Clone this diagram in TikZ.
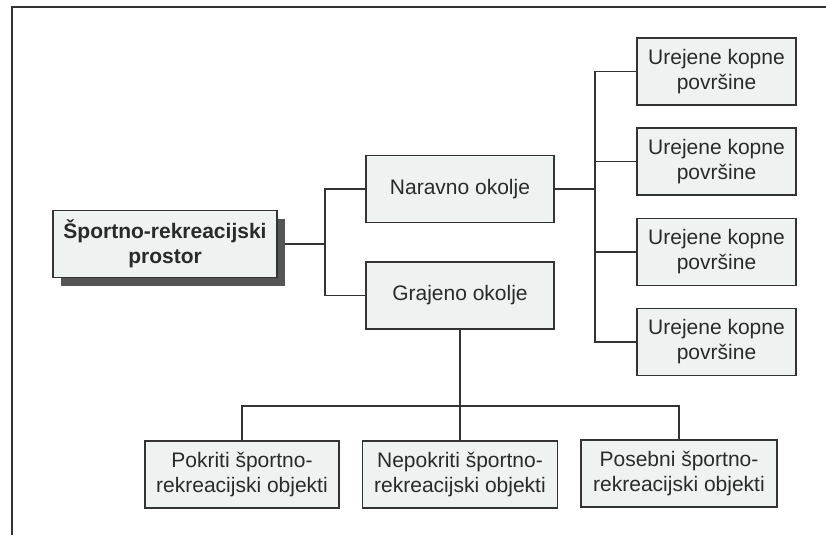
\documentclass[tikz,border=0pt]{standalone}
\usepackage{fontspec}
\setmainfont{Liberation Sans}
\begin{document}
\begin{tikzpicture}[x=1pt,y=-1pt,
  box/.style={draw=linec, fill=boxfill, line width=1.4pt, text=textc,
    font=\fontsize{21}{25}\selectfont, align=center, inner sep=0pt,
    minimum height=67pt},
  conn/.style={draw=linec, line width=1.2pt},
]
\definecolor{boxfill}{HTML}{EEF2F0}
\definecolor{linec}{HTML}{333333}
\definecolor{textc}{HTML}{2A2A2A}
\definecolor{shadowc}{HTML}{555555}
\useasboundingbox (0,0) rectangle (826,535);
% frame
\draw[linec, line width=1.6pt] (12,535) -- (12,7) -- (826,7);
% main node with shadow
\node[fill=shadowc, minimum width=224pt, minimum height=67pt, inner sep=0pt] (mainsh) at (173,252) {};
\node[box, minimum width=224pt, font=\bfseries\fontsize{21}{25}\selectfont] (main) at (165,244) {Športno-rekreacijski\\prostor};
% second level
\node[box, minimum width=188pt] (nar) at (460,189) {Naravno okolje};
\node[box, minimum width=188pt] (gra) at (460,295.5) {Grajeno okolje};
% right column
\node[box, minimum width=159pt] (u1) at (716.5,71.5) {Urejene kopne\\površine};
\node[box, minimum width=159pt] (u2) at (716.5,161.5) {Urejene kopne\\površine};
\node[box, minimum width=159pt] (u3) at (716.5,252) {Urejene kopne\\površine};
\node[box, minimum width=159pt] (u4) at (716.5,342) {Urejene kopne\\površine};
% bottom row
\node[box, minimum width=194pt] (b1) at (242,474.5) {Pokriti športno-\\rekreacijski objekti};
\node[box, minimum width=195pt] (b2) at (460,474.5) {Nepokriti športno-\\rekreacijski objekti};
\node[box, minimum width=196pt] (b3) at (679,473.5) {Posebni športno-\\rekreacijski objekti};
% junctions
\coordinate (j1) at (325,244);
\coordinate (j2) at (595,189);
\coordinate (j3) at (460,406);
% connectors
\draw[conn] (main.center -| mainsh.east) -- (j1);
\draw[conn] (nar.west) -| (j1) |- (gra.west);
\draw[conn] (nar.east) -- (j2);
\draw[conn] (u1.west) -| (j2) |- (u4.west);
\draw[conn] (u2.west) -- (u2.west -| j2);
\draw[conn] (u3.west) -- (u3.west -| j2);
\draw[conn] (gra.south) -- (j3);
\draw[conn] (b1.north) |- (j3) -| (b3.north);
\draw[conn] (j3) -- (b2.north);
\end{tikzpicture}
\end{document}
